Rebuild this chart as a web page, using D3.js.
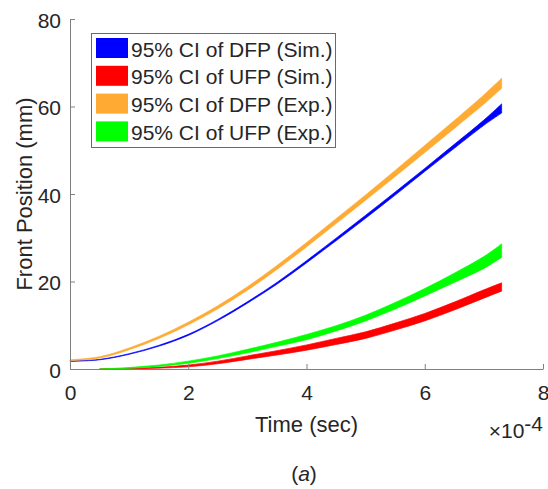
<!DOCTYPE html>
<html>
<head>
<meta charset="utf-8">
<title>Front position</title>
<script src="https://d3js.org/d3.v7.min.js"></script>
<style>
  body { margin: 0; background: #fff; }
  text { font-family: "Liberation Sans", Arial, sans-serif; fill: #262626; }
</style>
</head>
<body>
<script>
// time in units of 1e-4 sec
var times = [0, 0.5, 1, 1.5, 2, 2.5, 3, 3.5, 4, 4.5, 5, 5.5, 6, 6.5, 7, 7.3];
var timesUF = [0.5, 1, 1.5, 2, 2.5, 3, 3.5, 4, 4.5, 5, 5.5, 6, 6.5, 7, 7.3];

// 95% CI bounds, front position (mm)
var dfpSimLo = [1.75, 2.1, 3.35, 5.2, 7.68, 11.06, 15.04, 19.4, 24.25, 29.3, 34.45, 39.75, 45.15, 50.45, 55.7, 58.5];
var dfpSimHi = [1.85, 2.2, 3.5, 5.4, 7.92, 11.34, 15.36, 19.8, 24.75, 29.9, 35.15, 40.45, 45.85, 51.35, 56.9, 60.6];
var dfpExpLo = [1.9, 2.5, 4.4, 6.95, 10.1, 13.75, 18.0, 22.75, 27.9, 33.25, 38.6, 44.0, 49.5, 55.0, 60.55, 64.15];
var dfpExpHi = [2.1, 2.8, 4.8, 7.45, 10.7, 14.45, 18.8, 23.65, 28.9, 34.35, 39.8, 45.4, 51.1, 56.8, 62.65, 66.45];
var ufpSimLo = [0, 0.05, 0.2, 0.5, 1.2, 2.2, 3.2, 4.3, 5.6, 7.0, 8.9, 11.0, 13.5, 16.2, 17.8];
var ufpSimHi = [0, 0.15, 0.4, 0.9, 1.8, 3.0, 4.2, 5.5, 7.0, 8.5, 10.5, 12.7, 15.3, 18.1, 19.7];
var ufpExpLo = [0, 0.15, 0.6, 1.3, 2.4, 3.7, 5.2, 6.7, 8.7, 11.0, 13.7, 16.7, 19.8, 23.0, 25.5];
var ufpExpHi = [0, 0.35, 0.9, 1.8, 3.0, 4.5, 6.1, 7.9, 9.9, 12.3, 15.2, 18.4, 21.9, 25.7, 28.6];

var legendLabels = ["95% CI of DFP (Sim.)", "95% CI of UFP (Sim.)", "95% CI of DFP (Exp.)", "95% CI of UFP (Exp.)"];
var colors = ["#0000ff", "#ff0000", "#ffaa33", "#00ff00"];
var xTicks = [0, 2, 4, 6, 8];
var yTicks = [0, 20, 40, 60, 80];

var W = 548, H = 489;
var svg = d3.select("body").append("svg").attr("width", W).attr("height", H);

var x = d3.scaleLinear().domain([0, 8]).range([70, 543]);
var y = d3.scaleLinear().domain([0, 80]).range([369, 19]);

var bands = [
  { t: times, lo: dfpSimLo, hi: dfpSimHi, c: colors[0] },
  { t: timesUF, lo: ufpSimLo, hi: ufpSimHi, c: colors[1] },
  { t: times, lo: dfpExpLo, hi: dfpExpHi, c: colors[2] },
  { t: timesUF, lo: ufpExpLo, hi: ufpExpHi, c: colors[3] }
];

var area = d3.area()
  .x(function(d) { return x(d[0]); })
  .y0(function(d) { return y(d[1]); })
  .y1(function(d) { return y(d[2]); })
  .curve(d3.curveCatmullRom);

svg.selectAll("path.band")
  .data(bands)
  .enter()
  .append("path")
  .attr("class", "band")
  .attr("d", function(b) {
    return area(b.t.map(function(t, i) { return [t, b.lo[i], b.hi[i]]; }));
  })
  .attr("fill", function(b) { return b.c; })
  .attr("stroke", function(b) { return b.c; })
  .attr("stroke-width", 0.7);

// axes
var xAxis = svg.append("g")
  .attr("transform", "translate(0,369)")
  .call(d3.axisBottom(x).tickValues(xTicks).tickSizeInner(-5).tickSizeOuter(0).tickPadding(16));
var yAxis = svg.append("g")
  .attr("transform", "translate(70,0)")
  .call(d3.axisLeft(y).tickValues(yTicks).tickSizeInner(-5).tickSizeOuter(0).tickPadding(9));

[xAxis, yAxis].forEach(function(g) {
  g.select(".domain").attr("stroke", "#808080");
  g.selectAll(".tick line").attr("stroke", "#808080");
  g.selectAll(".tick text").attr("font-size", 21).attr("font-family", null).attr("fill", "#262626");
});
yAxis.selectAll(".tick text").attr("dy", "0.4em");

// axis labels
svg.append("text")
  .attr("x", 306.5).attr("y", 432)
  .attr("text-anchor", "middle")
  .attr("font-size", 22)
  .text("Time (sec)");

svg.append("text")
  .attr("transform", "translate(32,194) rotate(-90)")
  .attr("text-anchor", "middle")
  .attr("font-size", 22)
  .text("Front Position (mm)");

var mult = svg.append("text")
  .attr("x", 543).attr("y", 438)
  .attr("text-anchor", "end")
  .attr("font-size", 21);
mult.append("tspan").text("\u00d710");
mult.append("tspan").attr("dy", -7).text("-4");

var cap = svg.append("text")
  .attr("x", 304).attr("y", 481)
  .attr("text-anchor", "middle")
  .attr("font-size", 21);
cap.append("tspan").text("(");
cap.append("tspan").attr("font-style", "italic").text("a");
cap.append("tspan").text(")");

// legend
var legend = svg.append("g");
legend.append("rect")
  .attr("x", 91.5).attr("y", 33.5)
  .attr("width", 244).attr("height", 114)
  .attr("fill", "#fff")
  .attr("stroke", "#6a6a6a")
  .attr("stroke-width", 1);

var items = legend.selectAll("g.item")
  .data(legendLabels)
  .enter()
  .append("g")
  .attr("class", "item")
  .attr("transform", function(d, i) { return "translate(0," + (i * 27.8) + ")"; });

items.append("rect")
  .attr("x", 96).attr("y", 38)
  .attr("width", 32).attr("height", 20)
  .attr("fill", function(d, i) { return colors[i]; });

items.append("text")
  .attr("x", 131).attr("y", 56.5)
  .attr("font-size", 21)
  .text(function(d) { return d; });
</script>
</body>
</html>
